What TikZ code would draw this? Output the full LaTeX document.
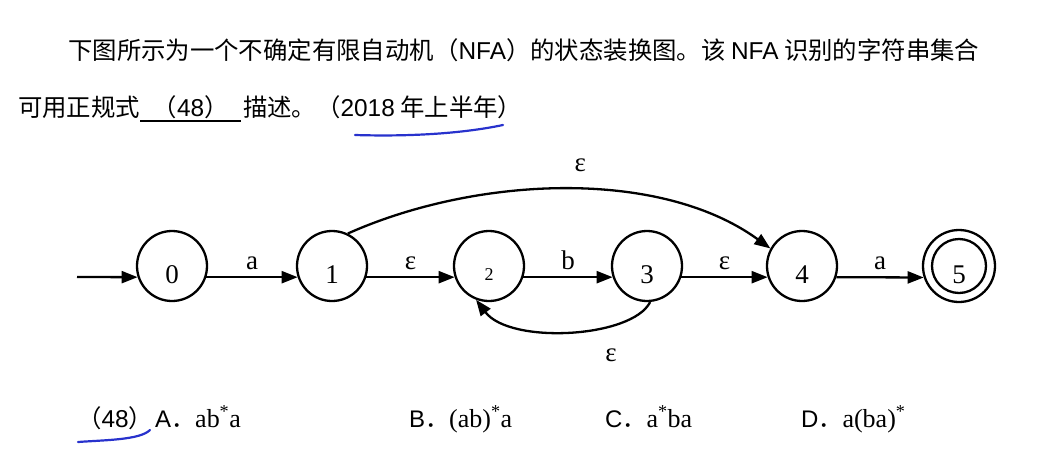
\documentclass[tikz,border=0pt]{standalone}
\usepackage{fontspec}
\setmainfont{Liberation Serif}
\newfontfamily\cjkfont{Noto Sans CJK SC}
\newfontfamily\arialfont{Liberation Sans}
\usepackage{tikz}
\usetikzlibrary{arrows.meta,automata,positioning}
\definecolor{penblue}{RGB}{40,50,205}

\begin{document}
\begin{tikzpicture}[x=1pt,y=1pt,>={Triangle[length=16pt,width=12pt]}]
\tikzstyle{every node}+=[inner sep=0pt]
\tikzstyle{st}=[circle,draw=black,line width=2.3pt,minimum size=70pt,font=\fontsize{27}{27}\selectfont,text height=34pt,text depth=0pt]
\tikzstyle{edge}=[black,line width=2.3pt,->]
\tikzstyle{lbl}=[font=\fontsize{27}{27}\selectfont]
\tikzstyle{txt}=[font=\cjkfont\fontsize{24.4}{24.4}\selectfont,anchor=base west]
\tikzstyle{opt}=[font=\arialfont\fontsize{24}{24}\selectfont,anchor=base west]
\tikzstyle{pen}=[penblue,line width=2.2pt,line cap=round]
\useasboundingbox (0,0) rectangle (1058,-472);
% question text
\node[txt] (line1) at (68,-59) {下图所示为一个不确定有限自动机（{\arialfont NFA}）的状态装换图。该 {\arialfont NFA} 识别的字符串集合};
\node[txt] (line2) at (18,-116) {可用正规式};
\node[txt,minimum width=100pt,anchor=base west] (blank) at (line2.base east) {（{\arialfont 48}）};
\draw [black,line width=2pt] ([yshift=-5pt]blank.base west) -- ([yshift=-5pt]blank.base east);
\node[txt] (line2b) at ([xshift=2pt]blank.base east) {描述。（{\arialfont 2018} 年上半年）};
\draw [pen] (355,-135) .. controls (420,-137) and (470,-132) .. (503,-125);
% states
\node[st] (q0) at (172,-266) {0};
\node[st] (q1) at (332,-266) {1};
\node[st,font=\fontsize{18}{18}\selectfont,text height=28pt] (q2) at (489,-266) {2};
\node[st] (q3) at (647,-266) {3};
\node[st] (q4) at (802,-266) {4};
\node[st,minimum size=72pt] (q5) at (959,-266) {5};
\draw [black,line width=2.3pt] (q5.center) circle (27pt);
\coordinate (start) at (77,-277);
% transitions
\draw [edge] (start) -- (q0.198);
\draw [edge] (q0.-18) -- (q1.198) node[lbl,midway,above=6pt] (ta) {a};
\draw [edge] (q1.-18) -- (q2.198) node[lbl,midway,above=6pt] (te1) {ε};
\draw [edge] (q2.-18) -- (q3.198) node[lbl,midway,above=6pt] (tb) {b};
\draw [edge] (q3.-18) -- (q4.198) node[lbl,midway,above=6pt] (te2) {ε};
\draw [edge] (q4.-18) -- (q5.198) node[lbl,midway,above=6pt] (ta2) {a};
\draw [edge] (q1.64) .. controls +(130,58) and +(-110,80) .. (q4.151) node[lbl,pos=0.53,above=17pt] (te3) {ε};
\draw [edge] (q3.-85) .. controls +(-18,-36) and +(34,-45) .. (q2.-111) node[lbl,pos=0.3,below=22pt] (te4) {ε};
% answer options
\node[txt] (num) at (77,-427) {（{\arialfont 48}）};
\draw [pen] (78,-442) .. controls (105,-440) and (140,-440) .. (150,-430);
\node[opt] (optA) at (155,-427) {A{\cjkfont ．}\rmfamily\fontsize{26}{26}\selectfont ab\textsuperscript{*}a};
\node[opt] (optB) at (409,-427) {B{\cjkfont ．}\rmfamily\fontsize{26}{26}\selectfont (ab)\textsuperscript{*}a};
\node[opt] (optC) at (605,-427) {C{\cjkfont ．}\rmfamily\fontsize{26}{26}\selectfont a\textsuperscript{*}ba};
\node[opt] (optD) at (801,-427) {D{\cjkfont ．}\rmfamily\fontsize{26}{26}\selectfont a(ba)\textsuperscript{*}};
\end{tikzpicture}
\end{document}
